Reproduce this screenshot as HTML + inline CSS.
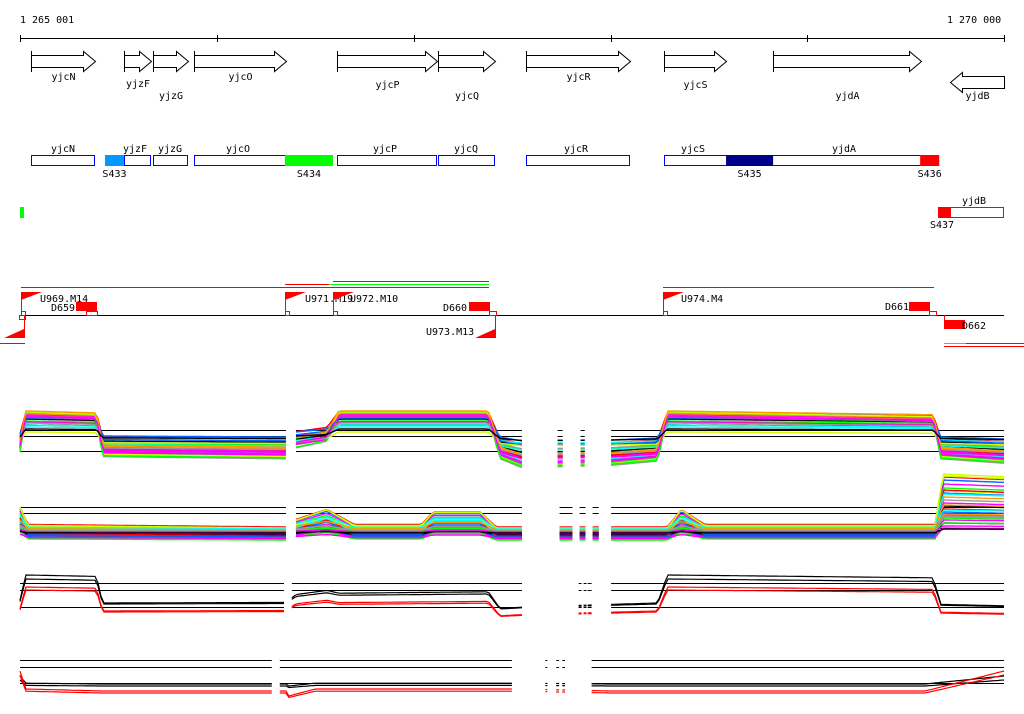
<!DOCTYPE html>
<html><head><meta charset="utf-8"><style>
html,body{margin:0;padding:0;background:#fff;}
svg{display:block;}
text{font-family:"DejaVu Sans Mono","Liberation Mono",monospace;font-size:10px;fill:#000;}
</style></head><body>
<svg id="c" width="1024" height="714" viewBox="0 0 1024 714" xmlns="http://www.w3.org/2000/svg">
<g>
<text x="20" y="23">1 265 001</text>
<text x="947" y="23">1 270 000</text>
<line x1="20" y1="38.5" x2="1004" y2="38.5" stroke="#000"/>
</g>
<g id="ticks"></g>
<g id="genes"></g>
<g id="boxes"></g>
<g id="prom"></g>
<g id="tracks"></g>
</svg>
<script>
const NS="http://www.w3.org/2000/svg";
const START=1265001, END=1270000;
function xs(bp){return 20+(bp-START)/(END-START)*984;}
function el(tag,attrs,parent,txt){const e=document.createElementNS(NS,tag);for(const k in attrs)e.setAttribute(k,attrs[k]);if(txt!==undefined)e.textContent=txt;parent.appendChild(e);return e;}

const tickBp=[1265001,1266001,1267001,1268001,1269001,1270000];
const gT=document.getElementById('ticks');
tickBp.forEach(b=>{const t=el('line',{x1:Math.round(xs(b))+0.5,y1:35,x2:Math.round(xs(b))+0.5,y2:42,stroke:'#000'},gT);

});

const geneNames=['yjcN','yjzF','yjzG','yjcO','yjcP','yjcQ','yjcR','yjcS','yjdA','yjdB'];
const geneStart=[1265057,1265529,1265677,1265885,1266612,1267125,1267572,1268273,1268827,1269726];
const geneEnd  =[1265382,1265667,1265855,1266353,1267120,1267415,1268101,1268588,1269579,1270000];
const geneStrand=[1,1,1,1,1,1,1,1,1,-1];
const geneLabelY=[80,87,99,80,88,99,80,88,99,99];
const gG=document.getElementById('genes');
geneNames.forEach((n,i)=>{
  const x1=Math.round(xs(geneStart[i]))+0.5, x2=Math.round(xs(geneEnd[i]))+0.5;
  let p;
  if(geneStrand[i]>0){
    const h=x2-12;
    p=el('polygon',{points:`${x1},55.5 ${h},55.5 ${h},51.5 ${x2},61.5 ${h},71.5 ${h},67.5 ${x1},67.5`,fill:'#fff',stroke:'#000'},gG);
    const b=el('line',{x1:x1,y1:51,x2:x1,y2:72,stroke:'#000'},gG);
    
    
  } else {
    const h=x1+12;
    p=el('polygon',{points:`${x2},76.5 ${h},76.5 ${h},72.5 ${x1},82.5 ${h},92.5 ${h},88.5 ${x2},88.5`,fill:'#fff',stroke:'#000'},gG);
  }
  
  
  const t=el('text',{x:(x1+x2)/2,y:geneLabelY[i],'text-anchor':'middle'},gG,n);
  
  
});

const gB=document.getElementById('boxes');
const boxNames=['yjcN','yjzF','yjzG','yjcO','yjcP','yjcQ','yjcR','yjcS-yjdA'];
const boxStart=[1265057,1265529,1265677,1265885,1266612,1267125,1267572,1268273];
const boxEnd  =[1265382,1265667,1265855,1266353,1267120,1267415,1268101,1269671];
boxNames.forEach((n,i)=>{
  const x1=Math.round(xs(boxStart[i]))+0.5,x2=Math.round(xs(boxEnd[i]))-0.5;
  const r=el('rect',{x:x1,y:155.5,width:x2-x1,height:10,fill:'#fff',stroke:'#0000ff'},gB);
  
  
});
const boxLabels=[['yjcN',63],['yjzF',135],['yjzG',170],['yjcO',238],['yjcP',385],['yjcQ',466],['yjcR',576],['yjcS',693],['yjdA',844]];
boxLabels.forEach(b=>{const t=el('text',{x:b[1],y:152,'text-anchor':'middle'},gB,b[0]);

});
const segNames=['S433','S434','S435','S436'];
const segStart=[1265433,1266347,1268588,1269574];
const segEnd  =[1265529,1266591,1268827,1269671];
const segColor=['#0099ff','#00ff00','#000088','#ff0000'];
segNames.forEach((n,i)=>{
  const x1=xs(segStart[i]),x2=xs(segEnd[i]);
  const r=el('rect',{x:x1,y:155,width:x2-x1,height:11,fill:segColor[i]},gB);
  
  
  const t=el('text',{x:(x1+x2)/2,y:177,'text-anchor':'middle'},gB,n);
  
  
});
(function(){
  let r=el('rect',{x:938.5,y:207.5,width:65,height:10,fill:'#fff',stroke:'#ff0000'},gB);
  
  
  r=el('rect',{x:938,y:207,width:13,height:11,fill:'#ff0000'},gB);
  
  
  let t=el('text',{x:974,y:204,'text-anchor':'middle'},gB,'yjdB');
  
  
  t=el('text',{x:942,y:228,'text-anchor':'middle'},gB,'S437');
  
  
  r=el('rect',{x:20,y:207,width:4,height:11,fill:'#00ff00'},gB);
  
  
})();

const gP=document.getElementById('prom');
function ln(x1,y1,x2,y2,c,name,w){const l=el('line',{x1,y1,x2,y2,stroke:c,'stroke-width':w||1},gP);

return l;}
ln(20,315.5,1004,315.5,'#000','promoter-baseline');
ln(21,287.5,489,287.5,'#ff0000','operon-line-1');
ln(285,284.5,329,284.5,'#ff0000','operon-line-2');
ln(329,284.5,489,284.5,'#00ff00','operon-line-3');
ln(333,281.5,489,281.5,'#ff0000','operon-line-4');
ln(663,287.5,934,287.5,'#ff0000','operon-line-5');
ln(0,343.5,25,343.5,'#ff0000','operon-line-6');
ln(944,343.5,966,343.5,'#00ff00','operon-line-7');
ln(966,343.5,1024,343.5,'#ff0000','operon-line-8');
ln(944,346.5,1024,346.5,'#ff0000','operon-line-9');
const fwdFlags=[[21,'U969.M14',40],[285,'U971.M19',305],[333,'U972.M10',350],[663,'U974.M4',681]];
fwdFlags.forEach(f=>{
  ln(f[0]+0.5,292,f[0]+0.5,315,'#ff0000','promoter-pole');
  const p=el('polygon',{points:`${f[0]},292 ${f[0]+21},292 ${f[0]},300`,fill:'#ff0000'},gP);
  
  
  const t=el('text',{x:f[2],y:302},gP,f[1]);
  
  
  const s=el('rect',{x:f[0]+0.5,y:311.5,width:4,height:4,fill:'none',stroke:'#ff0000'},gP);
  
  
});
const revFlags=[[24,'5',-6],[495,'U973.M13',426]];
revFlags.forEach(f=>{
  ln(f[0]+0.5,315,f[0]+0.5,338,'#ff0000','promoter-pole');
  const p=el('polygon',{points:`${f[0]},329 ${f[0]},338 ${f[0]-20},338`,fill:'#ff0000'},gP);
  
  
  const t=el('text',{x:f[2],y:335},gP,f[1]);
  
  
});
const terms=[[76,302,'D659',51,311],[469,302,'D660',443,311],[909,302,'D661',885,310],[944,320,'D662',962,329]];
terms.forEach(d=>{
  const r=el('rect',{x:d[0],y:d[1],width:21,height:9,fill:'#ff0000'},gP);
  
  
  const t=el('text',{x:d[3],y:d[4]},gP,d[2]);
  
  
});
ln(944.5,315,944.5,320,'#ff0000','terminator-pole');
[[86,311.5,11],[489,311.5,7],[929,311.5,7],[19,315.5,6]].forEach(s=>{const r=el('rect',{x:s[0]+0.5,y:s[1],width:s[2],height:4,fill:'none',stroke:'#ff0000'},gP);

});

// ===== expression data =====
const palette=['#ff0000','#0066ff','#ff00ff','#00ff00','#ccff00','#00ffff','#ff9900','#999999','#ff00ff','#000000'];
const p1Bp =[1265001,1265030,1265390,1265420,1266352,1266403,1266560,1266620,1267380,1267440,1267551,1268004,1268240,1268290,1269640,1269680,1270000];
const p1Lvl=[0.2,1,0.95,0.1,0.05,0.3,0.45,1,1,0.05,-0.15,-0.1,0,1,0.9,0.05,-0.05];
const p1Base=[440,452,445,458,447,455,449,461,451,443,453,438,457,446,459,441,450,445,456,448,452,442,454,460,444,447,449,451,453,439];
const p1Gain=[28,40,31,45,22,38,35,44,36,18,31,20,42,25,47,14,34,26,40,29,30,24,32,43,12,22,38,28,36,10];
const p2Bp =[1265001,1265040,1266352,1266400,1266560,1266700,1267040,1267100,1267340,1267420,1268004,1268290,1268360,1268480,1269650,1269690,1270000];
const p2Lvl=[0.4,0.05,0,0.15,0.35,0.05,0.05,0.3,0.3,0,0,0,0.35,0.05,0.05,1,0.95];
const p2Base=[527,528,529,530,531,532,533,534,535,536,537,538,539,540,529,530,532,533,534,535,536,537,538,531,528,529,530,531,532,533];
const p2Gain=[50,48,45,42,40,38,36,34,32,30,28,26,24,22,55,20,18,16,14,12,46,44,10,8,52,35,25,15,6,4];
const p3Bp =[1265001,1265030,1265390,1265420,1266352,1266403,1266560,1266620,1267380,1267440,1267551,1268004,1268240,1268290,1269640,1269680,1270000];
const p3Lvl=[0.1,1,0.95,0,0.02,0.3,0.45,0.35,0.4,-0.2,-0.15,-0.05,0,1,0.9,-0.05,-0.1];
const p3Base=[603,604,611,612];
const p3Gain=[28,25,24,22];
const p3Color=['#000','#000','#ff0000','#ff0000'];
const p4Bp =[1265001,1265030,1265420,1266352,1266311,1266500,1267551,1268004,1269600,1270000];
const p4Lvl=[1,0.1,0,0,-0.4,0.1,0.1,0,0,1];
const p4Base=[684,686,691,693];
const p4Gain=[8,6,20,18];
const p4Color=['#000','#000','#ff0000','#ff0000'];
const seg1=[[1265001,1266352],[1266403,1267551],[1267732,1267758],[1267849,1267870],[1268004,1270000]];
const seg2=[[1265001,1266352],[1266403,1267551],[1267742,1267808],[1267844,1267874],[1267910,1267941],[1268004,1270000]];
const seg3=[[1265001,1266342],[1266382,1267551],[1267839,1267854],[1267864,1267879],[1267885,1267905],[1268004,1270000]];
const seg4=[[1265001,1266280],[1266321,1267500],[1267670,1267680],[1267725,1267740],[1267756,1267770],[1267905,1270000]];
const ref1=[430,436,451], ref2=[507,513,528], ref3=[583,590,607], ref4=[660,667,683];

const gTr=document.getElementById('tracks');
function level(bps,lv,b){
  if(b<=bps[0])return lv[0];
  for(let i=1;i<bps.length;i++){if(b<=bps[i]){const d=bps[i]-bps[i-1];const t=d>0?(b-bps[i-1])/d:1;return lv[i-1]+(lv[i]-lv[i-1])*t;}}
  return lv[lv.length-1];
}
function drawPanel(name,bps,lv,bases,gains,colors,segs,refs,w){
  const g=el('g',{},gTr);
  
  
  segs.forEach(s=>{
    refs.forEach(r=>{const l=el('line',{x1:xs(s[0]),y1:r+0.5,x2:xs(s[1]),y2:r+0.5,stroke:'#000'},g);
    
    });
  });
  bases.forEach((base,i)=>{
    segs.forEach(s=>{
      let pts=[];
      const n=Math.max(2,Math.round((xs(s[1])-xs(s[0]))/3));
      for(let k=0;k<=n;k++){const b=s[0]+(s[1]-s[0])*k/n;pts.push(xs(b).toFixed(1)+','+(base-gains[i]*level(bps,lv,b)).toFixed(1));}
      const p=el('polyline',{points:pts.join(' '),fill:'none',stroke:colors[i%colors.length],'stroke-width':w},g);
      
      
    });
  });
}
drawPanel('expression-panel-1',p1Bp,p1Lvl,p1Base,p1Gain,palette,seg1,ref1,1.4);
drawPanel('expression-panel-2',p2Bp,p2Lvl,p2Base,p2Gain,palette,seg2,ref2,1.4);
drawPanel('expression-panel-3',p3Bp,p3Lvl,p3Base,p3Gain,p3Color,seg3,ref3,1.2);
drawPanel('expression-panel-4',p4Bp,p4Lvl,p4Base,p4Gain,p4Color,seg4,ref4,1.2);
</script>
</body></html>
